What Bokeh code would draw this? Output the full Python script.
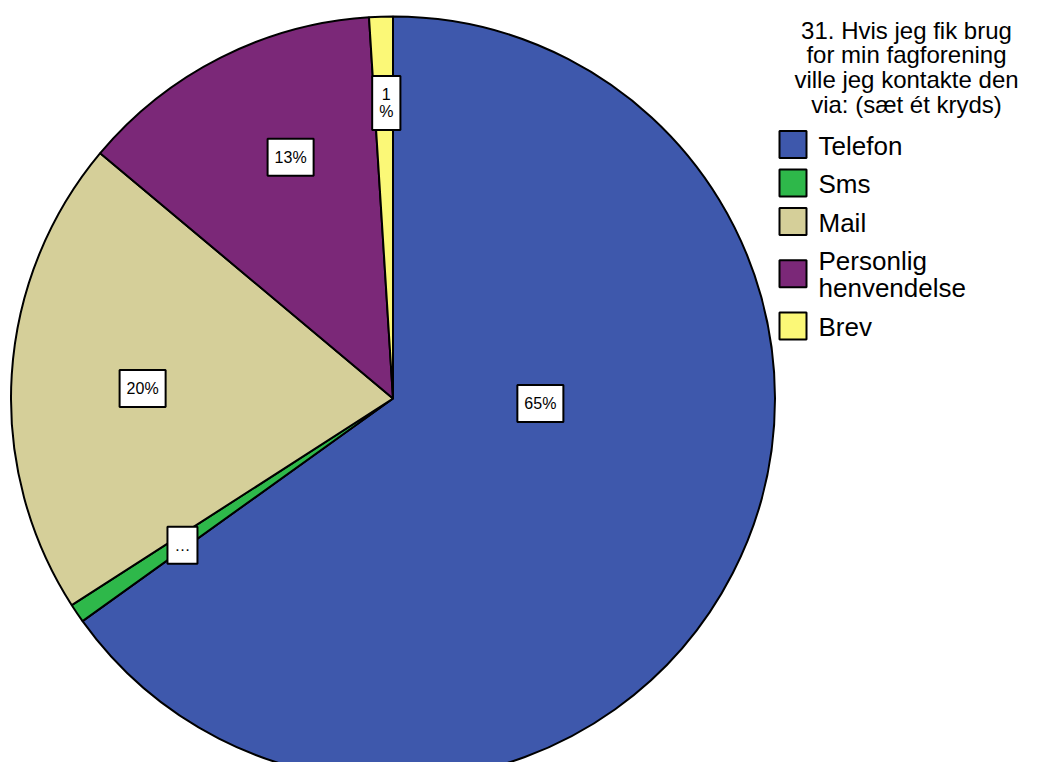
import math
from bokeh.plotting import figure
from bokeh.models import Range1d, ColumnDataSource
from bokeh.embed import file_html
from bokeh.resources import INLINE
from bokeh.core.properties import value

# ---------------- data ----------------
categories = ["Telefon", "Sms", "Mail", "Personlig\nhenvendelse", "Brev"]
percents = [65.1, 0.8, 20.2, 12.9, 1.0]
slice_labels = ["65%", "…", "20%", "13%", "1\n%"]
title_lines = ["31. Hvis jeg fik brug", "for min fagforening",
               "ville jeg kontakte den", "via: (sæt ét kryds)"]

# ---------------- styles / layout ----------------
colors = ["#3E58AC", "#2EB84A", "#D5CF99", "#7B2878", "#FBF877"]
FONT = "Liberation Sans"
W, H = 1023, 762
CX, CY_REF, R = 392.5, 398.0, 382.0
label_angle_deg = [-1.9, 214.9, 177.7, 113.0, 91.3]
label_r_frac = [0.386, 0.672, 0.656, 0.686, 0.774]


def Y(y_ref):
    return H - y_ref


p = figure(width=W, height=H, x_range=Range1d(0, W), y_range=Range1d(0, H),
           output_backend="svg", toolbar_location=None, min_border=0)
p.xaxis.visible = False
p.yaxis.visible = False
p.grid.visible = False
p.outline_line_color = None
p.background_fill_color = "white"

# ---------------- pie ----------------
total = sum(percents)
starts, ends = [], []
cum = 0.0
for v in percents:
    a0 = math.radians(90 - cum / total * 360)
    cum += v
    a1 = math.radians(90 - cum / total * 360)
    starts.append(a0)
    ends.append(a1)

pie_src = ColumnDataSource(dict(start=starts, end=ends, color=colors, cat=categories))
p.wedge(x=CX, y=Y(CY_REF), radius=R, start_angle="start", end_angle="end",
        direction="clock", fill_color="color", line_color="black", line_width=2,
        source=pie_src)

# ---------------- slice labels ----------------
lx = [CX + f * R * math.cos(math.radians(a)) for a, f in zip(label_angle_deg, label_r_frac)]
ly = [Y(CY_REF) + f * R * math.sin(math.radians(a)) for a, f in zip(label_angle_deg, label_r_frac)]
p.text(x=lx, y=ly, text=slice_labels, text_font=value(FONT), text_font_size="16px",
       text_align="center", text_baseline="middle", text_color="black", text_line_height=1.0,
       background_fill_color="white", border_line_color="black", border_line_width=2,
       padding=dict(x=7, y=10))

# ---------------- legend title ----------------
TITLE_X = 906
title_mid = [29.5 + 24.7 * i for i in range(len(title_lines))]
p.text(x=[TITLE_X] * len(title_lines), y=[Y(b) for b in title_mid], text=title_lines,
       text_font=value(FONT), text_font_size="24px", text_align="center",
       text_baseline="middle", text_color="black")

# ---------------- legend items ----------------
SW_X, SW = 792.5, 27
TXT_X = 818
LINE_STEP = 27.4
centers = []
c = 144.0
prev_h = None
for cat in categories:
    n = len(cat.split("\n"))
    h = 38.5 + LINE_STEP * (n - 1)
    if prev_h is not None:
        c += prev_h / 2 + h / 2
    centers.append(c)
    prev_h = h

p.rect(x=[SW_X] * len(categories), y=[Y(cc) for cc in centers], width=SW, height=SW,
       fill_color=colors, line_color="black", line_width=2)

tx, ty, tt = [], [], []
for cat, cc in zip(categories, centers):
    parts = cat.split("\n")
    n = len(parts)
    for k, part in enumerate(parts):
        tx.append(TXT_X)
        ty.append(Y(cc + 1.0 + LINE_STEP * (k - (n - 1) / 2)))
        tt.append(part)
p.text(x=tx, y=ty, text=tt, text_font=value(FONT), text_font_size="26px",
       text_align="left", text_baseline="middle", text_color="black")

open("out.html", "w").write(file_html(p, INLINE))
